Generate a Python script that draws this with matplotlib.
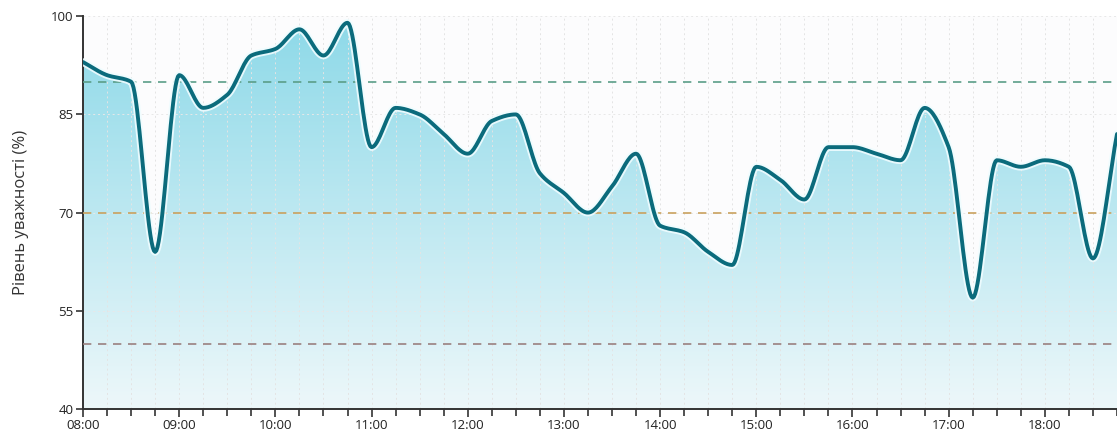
import numpy as np
import matplotlib
matplotlib.use("Agg")
import matplotlib.pyplot as plt
from matplotlib.ticker import MultipleLocator

plt.rcParams['font.family'] = ['Open Sans', 'DejaVu Sans']

# minutes after 08:00, one reading every 15 min
minutes = np.arange(0, 646, 15)
attention = [93, 91, 90, 64, 91, 86, 88, 94, 95, 98, 94, 99,
             80, 86, 85, 82, 79, 84, 85, 76, 73, 70, 74, 79,
             68, 67, 64, 62, 77, 75, 72, 80, 80, 79, 78, 86,
             80, 57, 78, 77, 78, 77, 63, 82]
hour_labels = ['08:00', '09:00', '10:00', '11:00', '12:00', '13:00',
               '14:00', '15:00', '16:00', '17:00', '18:00']
thresholds = [90, 70, 50]
thr_colors = ['#5a9e88', '#c9a15e', '#9a8080']


def monotone(x, y, n=20):
    # Fritsch-Carlson monotone cubic, for drawing the smooth line
    x = np.asarray(x, float)
    y = np.asarray(y, float)
    h = np.diff(x)
    d = np.diff(y) / h
    m = np.zeros_like(y)
    m[0], m[-1] = d[0], d[-1]
    for i in range(1, len(y) - 1):
        if d[i-1] * d[i] <= 0:
            m[i] = 0
        else:
            w1 = 2*h[i] + h[i-1]
            w2 = h[i] + 2*h[i-1]
            m[i] = (w1 + w2) / (w1/d[i-1] + w2/d[i])
    xs, ys = [], []
    for i in range(len(x) - 1):
        t = np.linspace(0, 1, n, endpoint=False)
        h00 = 2*t**3 - 3*t**2 + 1
        h10 = t**3 - 2*t**2 + t
        h01 = -2*t**3 + 3*t**2
        h11 = t**3 - t**2
        xs.append(x[i] + t*h[i])
        ys.append(h00*y[i] + h10*h[i]*m[i] + h01*y[i+1] + h11*h[i]*m[i+1])
    xs.append([x[-1]])
    ys.append([y[-1]])
    return np.concatenate(xs), np.concatenate(ys)


xs, ys = monotone(minutes, attention)

fig = plt.figure(figsize=(11.17, 4.34), dpi=100)
ax = fig.add_axes([0.0743, 0.0576, 0.9257, 0.905])
ax.set_facecolor('#fcfcfd')
ax.set_xlim(0, 645)
ax.set_ylim(40, 100)

# gradient fill under the curve
grad = np.linspace(0, 1, 256).reshape(-1, 1)
top = np.array([0.55, 0.85, 0.91])
bot = np.array([0.93, 0.97, 0.98])
img = top * (1 - grad[..., None]) + bot * grad[..., None]
img = img.reshape(256, 1, 3)
im = ax.imshow(img, extent=[0, 645, 40, 100], aspect='auto', origin='upper', zorder=1)
verts = np.vstack([np.column_stack([xs, ys]), [[645, 40], [0, 40]]])
clip = plt.Polygon(verts, closed=True, transform=ax.transData, facecolor='none', edgecolor='none')
ax.add_patch(clip)
im.set_clip_path(clip)

# grid
ax.xaxis.set_major_locator(MultipleLocator(60))
ax.xaxis.set_minor_locator(MultipleLocator(15))
ax.set_yticks([40, 55, 70, 85, 100])
ax.grid(True, which='both', axis='x', color='#e4e4e4', ls=(0, (2, 3)), lw=0.7, zorder=2)
ax.grid(True, which='major', axis='y', color='#e8e8e8', ls=(0, (2, 3)), lw=0.7, zorder=2)

for v, c in zip(thresholds, thr_colors):
    ax.axhline(v, color=c, ls=(0, (5, 4)), lw=1.2, zorder=3)

ax.plot(xs, ys, color='#effcff', lw=5.5, alpha=0.9, solid_capstyle='round', zorder=4)
ax.plot(xs, ys, color='#0b6b7c', lw=2.8, solid_capstyle='round', zorder=5)

ax.set_xticks(np.arange(0, 646, 60))
ax.set_xticklabels(hour_labels)
ax.tick_params(axis='both', which='both', labelsize=9.5, color='#333333', labelcolor='#222222')
ax.tick_params(axis='x', which='major', length=6, width=1.2, pad=1)
ax.tick_params(axis='x', which='minor', length=5, width=1.2)
ax.tick_params(axis='y', length=5, width=1.2, pad=2)
ax.set_ylabel('Рівень уважності (%)', fontsize=12, color='#333333', labelpad=16)

for s in ['top', 'right']:
    ax.spines[s].set_visible(False)
for s in ['left', 'bottom']:
    ax.spines[s].set_color('#333333')
    ax.spines[s].set_linewidth(1.4)

fig.savefig('out.png', dpi=100)
